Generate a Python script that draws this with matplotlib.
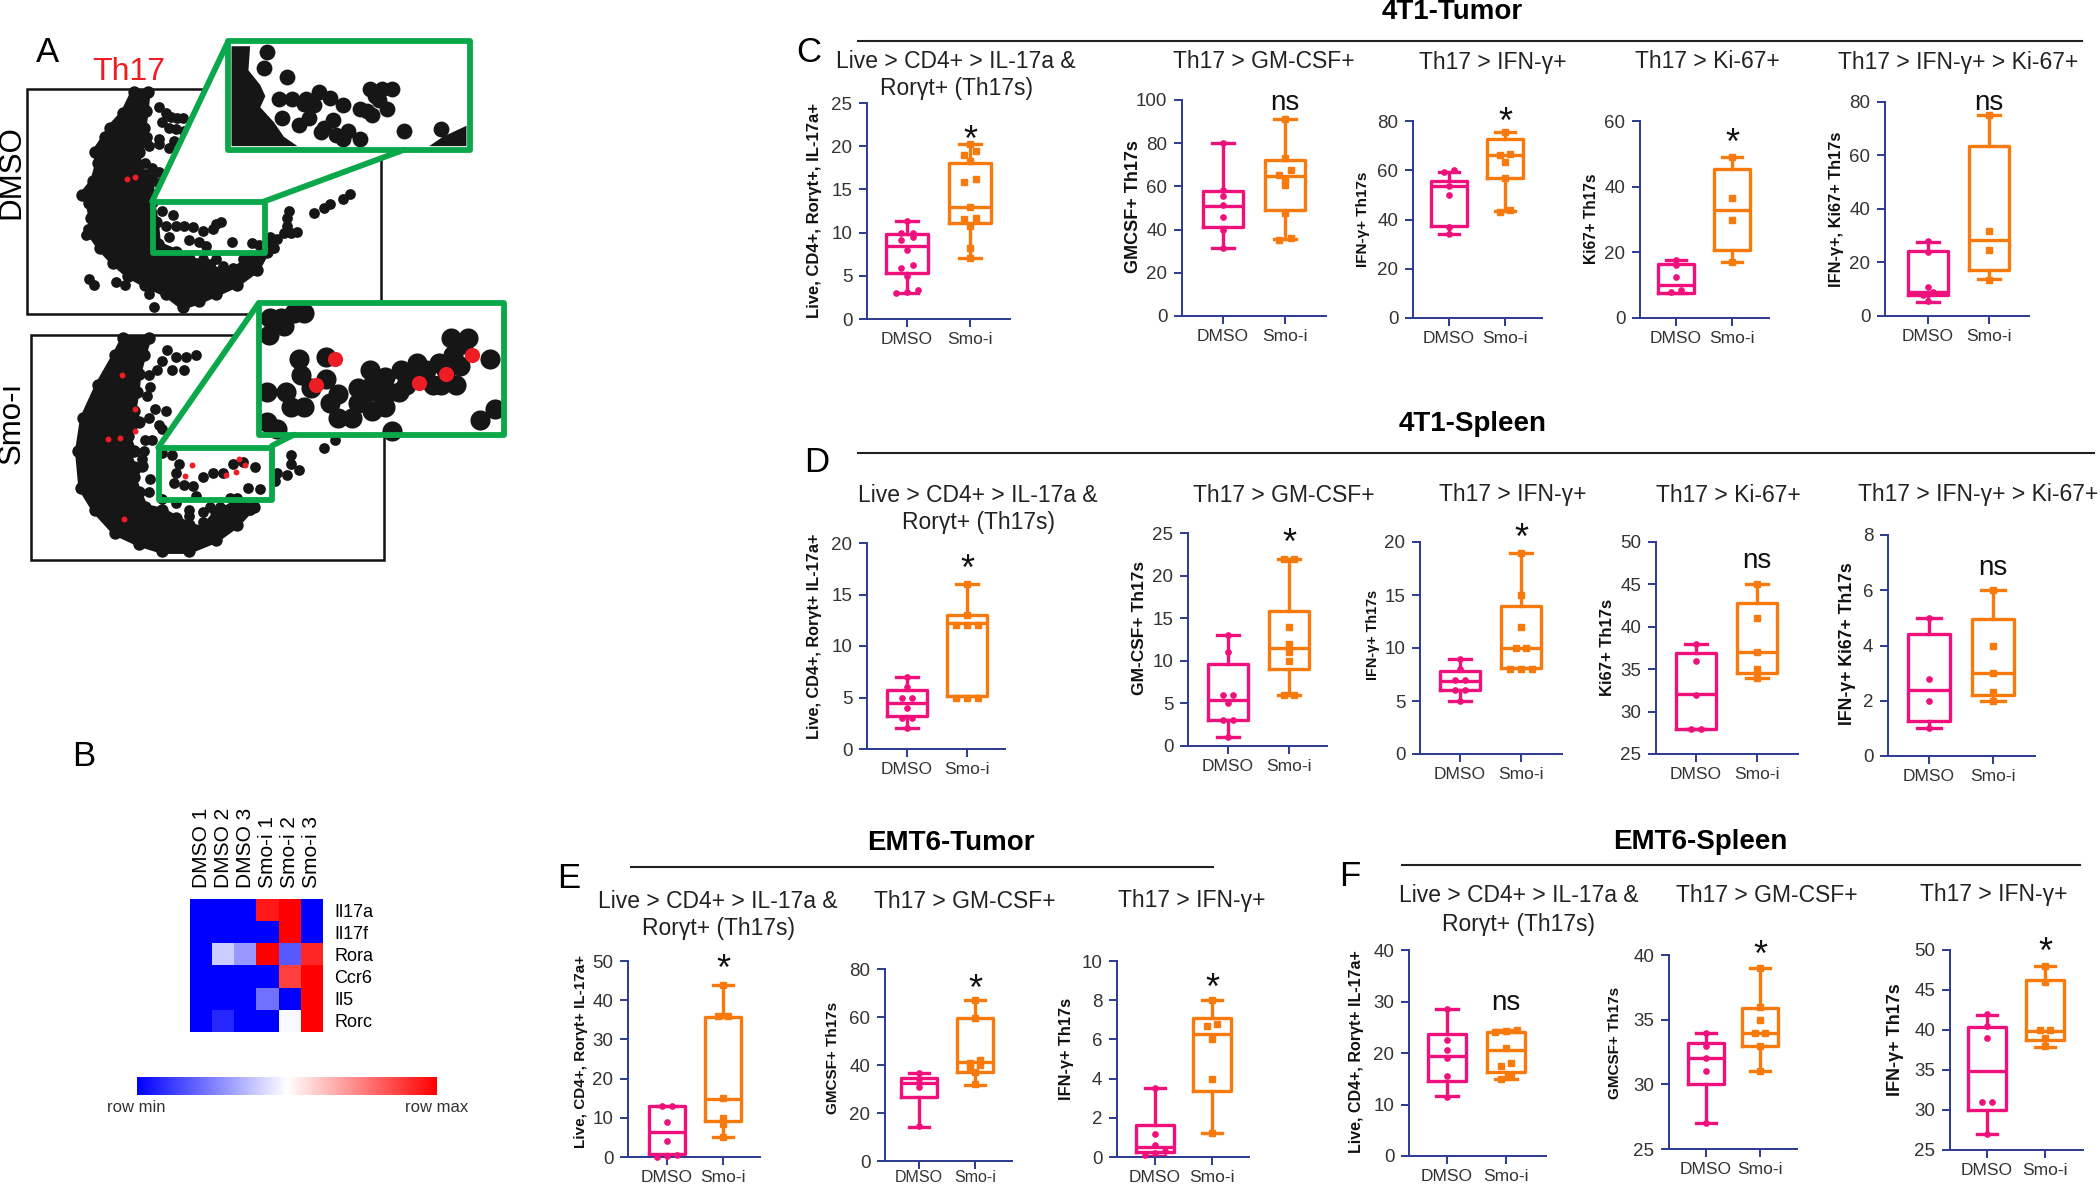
import numpy as np
import matplotlib
matplotlib.use("Agg")
import matplotlib.pyplot as plt
from matplotlib.colors import LinearSegmentedColormap
from matplotlib.lines import Line2D
from matplotlib.patches import Polygon, Rectangle

W, H = 2100, 1185

# box stats are (whisker low, q1, median, q3, whisker high)
c1_dmso_box = [3, 5.3, 8.5, 9.8, 11.3]
c1_dmso_pts = [3, 3.1, 3.4, 5, 5.9, 6.3, 8, 9.2, 9.5, 9.9, 10, 11.3]
c1_smo_box = [7.1, 11.1, 13, 18, 20.2]
c1_smo_pts = [7.1, 8.2, 10.8, 11.6, 11.7, 13, 15.8, 16.2, 18.3, 19, 19.5, 20.2]
c2_dmso_box = [31.5, 41, 51, 58, 80]
c2_dmso_pts = [31.5, 40, 46, 51.5, 55.5, 58.5, 80]
c2_smo_box = [35.5, 49, 65, 72, 91]
c2_smo_pts = [35, 36, 47.5, 60.5, 63, 65.5, 67.5, 73, 91]
c3_dmso_box = [34, 37.4, 53.5, 55.6, 59.4]
c3_dmso_pts = [34, 37, 50, 53.5, 59.4, 60]
c3_smo_box = [43.4, 56.7, 66.2, 72.7, 75.4]
c3_smo_pts = [43, 44, 57, 63.5, 66, 66.5, 75.5]
c4_dmso_box = [7.6, 7.6, 10.2, 16.3, 17.8]
c4_dmso_pts = [8, 8.5, 12.5, 16, 17.8]
c4_smo_box = [17, 20.6, 33, 45.5, 49.1]
c4_smo_pts = [17, 29.8, 36.7, 49]
c5_dmso_box = [5.4, 7.9, 9.1, 24.4, 27.5]
c5_dmso_pts = [5.5, 8, 9, 11, 24, 28]
c5_smo_box = [13.8, 17.3, 28.4, 63.5, 75]
c5_smo_pts = [13.5, 24.6, 31.7, 75]

d1_dmso_box = [2, 3.2, 4.5, 5.7, 7]
d1_dmso_pts = [2, 3, 3, 4, 5, 5, 6, 7]
d1_smo_box = [5.1, 5.1, 12.2, 13, 16]
d1_smo_pts = [5, 5, 5, 12, 12, 12, 13, 16]
d2_dmso_box = [1, 3.1, 5.4, 9.6, 13]
d2_dmso_pts = [1, 3, 3, 5, 6, 6, 11, 13]
d2_smo_box = [6, 9, 11.5, 15.9, 22]
d2_smo_pts = [6, 6, 10, 11, 12, 14, 22, 22]
d3_dmso_box = [5, 6.05, 6.9, 7.8, 9]
d3_dmso_pts = [5, 6, 6, 7, 7, 8, 9]
d3_smo_box = [8.1, 8.1, 10, 14, 19]
d3_smo_pts = [8, 8, 8, 10, 10, 12, 15, 19]
d4_dmso_box = [28, 28, 32.1, 36.9, 38]
d4_dmso_pts = [28, 28, 32, 36, 38]
d4_smo_box = [34, 34.6, 37, 42.8, 45]
d4_smo_pts = [34, 35, 37, 41, 45]
d5_dmso_box = [1, 1.27, 2.4, 4.4, 5]
d5_dmso_pts = [1, 2, 2.8, 5]
d5_smo_box = [2, 2.2, 3, 4.95, 6]
d5_smo_pts = [2, 2.3, 3, 4, 6]

e1_dmso_box = [0.2, 0.85, 6.4, 12.9, 12.9]
e1_dmso_pts = [0, 0.3, 0.5, 4, 9, 13, 13]
e1_smo_box = [5, 9.3, 14.8, 35.8, 44]
e1_smo_pts = [5, 8.5, 10, 15, 36, 36, 44]
e2_dmso_box = [14.2, 26.8, 32.6, 34.7, 36.8]
e2_dmso_pts = [14.5, 31, 34, 36.8]
e2_smo_box = [31.6, 37, 41.1, 59.5, 67.2]
e2_smo_pts = [32, 37, 39, 40, 41, 42, 59.5, 67]
e3_dmso_box = [0.05, 0.25, 0.5, 1.65, 3.5]
e3_dmso_pts = [0.1, 0.2, 0.3, 0.6, 1.15, 3.5]
e3_smo_box = [1.25, 3.37, 6.3, 7.07, 8]
e3_smo_pts = [1.25, 4, 6, 6.7, 6.8, 8]

f1_dmso_box = [11.6, 14.6, 19.5, 23.7, 28.6]
f1_dmso_pts = [11.5, 15.5, 19, 20.5, 22.5, 28.5]
f1_smo_box = [15, 16.3, 20.5, 24, 24.5]
f1_smo_pts = [15, 15.5, 17.5, 18, 21, 24, 24.3, 24.5]
f2_dmso_box = [27, 30, 32, 33.2, 34]
f2_dmso_pts = [27, 31, 32, 33, 34]
f2_smo_box = [31, 33, 34, 35.9, 39]
f2_smo_pts = [31, 33, 34, 34, 35, 36, 39]
f3_dmso_box = [27, 30, 34.9, 40.4, 41.9]
f3_dmso_pts = [27, 31, 31, 39, 40.5, 42]
f3_smo_box = [37.9, 38.7, 39.9, 46.2, 48]
f3_smo_pts = [38, 39, 40, 40, 46, 48]

# heatmap, -1 is row min and 1 is row max
genes = ["Il17a", "Il17f", "Rora", "Ccr6", "Il5", "Rorc"]
samples = ["DMSO 1", "DMSO 2", "DMSO 3", "Smo-i 1", "Smo-i 2", "Smo-i 3"]
heat_values = [
    [-1, -1, -1, 0.9, 1, -1],
    [-1, -1, -1, -1, 1, -1],
    [-1, -0.2, -0.4, 1, -0.65, 0.85],
    [-1, -1, -1, -1, 0.75, 1],
    [-1, -1, -1, -0.55, -1, 1],
    [-1, -0.85, -1, -1, -0.03, 1],
]

# flow plots
dmso_body = [(395,248),(437,248),(432,300),(425,345),(430,380),(412,410),(408,450),(420,490),(440,520),
             (450,545),(462,600),(468,660),(520,680),(560,700),(620,725),(680,735),(740,700),(790,680),
             (760,730),(700,770),(640,795),(590,815),(540,830),(490,795),(430,770),(380,745),(335,710),
             (295,670),(265,630),(270,590),(262,550),(242,527),(275,490),(290,440),(280,410),(310,370),
             (325,345),(365,305)]
dmso_dots = [(470,288),(490,305),(505,315),(525,320),(480,330),(500,345),(520,350),(545,355),(540,320),
             (430,300),(435,370),(470,375),(440,395),(470,390),(515,380),(500,400),(430,440),(450,455),
             (470,465),(450,480),(430,470),(470,495),(500,515),(525,530),(480,570),(512,582),(490,610),
             (520,610),(545,610),(570,615),(640,605),(655,600),(630,620),(600,625),(500,640),(560,650),
             (590,655),(610,665),(685,655),(745,658),(765,662),(800,660),(820,645),(850,610),(855,570),
             (850,590),(840,630),(880,628),(930,577),(960,562),(975,552),(1015,537),(1035,525),(262,755),
             (278,770),(342,763),(370,770),(440,795),(457,830),(260,620),(255,635),(580,710),(620,715),
             (660,720),(690,725),(500,690),(540,700),(600,700),(640,700),(720,700),(770,690),(810,670),
             (800,640),(440,500),(860,630)]
dmso_red = [(375,483),(400,478)]
smo_body = [(365,915),(440,915),(425,960),(410,1010),(405,1060),(395,1110),(410,1140),(380,1180),(395,1220),
            (380,1250),(420,1260),(395,1290),(410,1330),(430,1370),(480,1380),(520,1400),(560,1420),
            (600,1430),(640,1385),(700,1360),(750,1370),(700,1420),(640,1460),(560,1490),(480,1490),
            (410,1470),(340,1440),(280,1380),(240,1320),(230,1220),(245,1130),(290,1040),(340,960)]
smo_dots = [(495,945),(520,965),(550,965),(580,960),(510,1000),(545,1000),(480,975),(465,1000),(440,1015),
            (445,1045),(435,1070),(460,1105),(490,1110),(440,1130),(470,1150),(450,1190),(480,1160),
            (480,1225),(510,1230),(530,1255),(520,1280),(515,1305),(545,1310),(570,1315),(580,1340),
            (600,1290),(630,1280),(660,1280),(690,1255),(720,1250),(755,1262),(735,1320),(770,1322),
            (960,1210),(990,1190),(860,1230),(860,1255),(885,1270),(850,1285),(820,1280),(815,1300),
            (560,1395),(600,1410),(620,1370),(650,1370),(680,1345),(700,1345),(740,1380),(600,1385),
            (560,1380),(520,1360),(480,1350),(440,1330),(445,1295),(420,1240),(425,1220),(430,1190)]
smo_red = [(400,1105),(355,1185),(320,1188),(360,1015),(400,1165),(367,1403),(568,1258),(547,1287),
           (668,1283),(697,1275),(725,1258),(708,1240)]

inset1_body = [(685,125),(740,125),(735,190),(770,230),(785,260),(770,290),(810,330),(840,370),(880,395),(685,395)]
inset1_corner = [(1270,395),(1310,370),(1380,340),(1380,395)]
inset1_dots = [(790,140),(780,185),(848,208),(825,268),(865,268),(905,268),(945,250),(975,265),(930,285),
               (1015,285),(835,318),(885,338),(915,320),(985,325),(950,358),(995,365),(1030,355),(1065,375),
               (1065,295),(1095,240),(1130,240),(1160,240),(1120,270),(1145,295),(1100,310),(1195,355),(1305,350),
               (900,280),(960,345),(1015,375),(1085,300),(1110,260)]
inset2_dots = [(800,860),(830,860),(870,845),(900,845),(795,905),(840,880),(885,970),(965,965),(890,1015),
               (845,1060),(860,1100),(900,1100),(920,1050),(965,1025),(1000,1065),(975,1090),(1000,1130),
               (1040,1130),(790,1060),(790,1140),(820,1160),(1095,1000),(1090,1060),(1140,1020),(1130,1070),
               (1185,1000),(1235,980),(1180,1060),(1280,1040),(1260,1000),(1320,1000),(1305,1040),(1350,1040),
               (1340,960),(1335,915),(1385,915),(1450,970),(1420,1135),(1465,1105),(1160,1165),(1100,1110),(1060,1090),
               (1060,1050),(1100,1040),(1150,1060),(1200,1040),(1220,1010),(1140,1100),(1240,1010),(1300,980),
               (1360,990),(1370,930)]
inset2_red = [(990,970),(935,1040),(1240,1035),(1320,1010),(1395,960)]

PINK = "#f0107c"
ORANGE = "#f97a0c"
NAVY = "#2b3990"
GREEN = "#0aa84a"

plt.rcParams["font.family"] = ["Liberation Sans", "DejaVu Sans"]

fig = plt.figure(figsize=(W / 100, H / 100), dpi=100)


def ptext(x, y, s, **kw):
    kw.setdefault("ha", "center")
    kw.setdefault("va", "center")
    fig.text(x / W, 1 - y / H, s, **kw)


def pline(x0, x1, y):
    fig.add_artist(Line2D([x0 / W, x1 / W], [1 - y / H, 1 - y / H], color="#222222", lw=1.5))


def dodge(values, span):
    # points with nearly the same value sit side by side
    vals = sorted(values)
    xs = []
    i = 0
    while i < len(vals):
        j = i
        while j + 1 < len(vals) and vals[j + 1] - vals[i] < span * 0.025:
            j += 1
        n = j - i + 1
        xs += list((np.arange(n) - (n - 1) / 2) * 0.18)
        i = j + 1
    return np.array(xs), np.array(vals)


def box_panel(box, sig):
    left, right, t1, t2, y_bot, y_top, ticks, ylabel, lab_x, lab_y, lab_fs = box["layout"]
    ax = fig.add_axes([left / W, 1 - y_bot / H, (right - left) / W, (y_bot - y_top) / H])
    unit = t2 - t1
    ax.set_xlim(1 - (t1 - left) / unit, 2 + (right - t2) / unit)
    ax.set_ylim(ticks[0], ticks[-1])
    ax.patch.set_alpha(0)
    for name, pos, col, mark in [("dmso", 1, PINK, "o"), ("smo", 2, ORANGE, "s")]:
        lo, q1, med, q3, hi = box[name + "_box"]
        stats = [{"whislo": lo, "q1": q1, "med": med, "q3": q3, "whishi": hi, "fliers": []}]
        props = {"color": col, "linewidth": 2.4}
        ax.bxp(stats, positions=[pos], widths=0.66, capwidths=0.36, showfliers=False, manage_ticks=False,
               boxprops=props, whiskerprops=props, capprops=props, medianprops=props)
        dx, ys = dodge(box[name + "_pts"], ticks[-1] - ticks[0])
        ax.plot(pos + dx, ys, mark, color=col, ms=3.8, clip_on=False, zorder=4)
    for s in ["top", "right"]:
        ax.spines[s].set_visible(False)
    for s in ["left", "bottom"]:
        ax.spines[s].set_color(NAVY)
        ax.spines[s].set_linewidth(1.4)
    # the bottom row runs into the edge of the picture
    low_row = y_bot >= 1160
    ax.set_xticks([1, 2])
    ax.set_xticklabels(["DMSO", "Smo-i"], fontsize=11.5 if low_row else 12.5, color="#333333")
    ax.set_yticks(ticks)
    ax.set_yticklabels([str(t) for t in ticks], fontsize=13.5, color="#333333")
    ax.tick_params(axis="both", color=NAVY, width=1.4, length=5.5, pad=5)
    ax.tick_params(axis="x", pad=1 if low_row else 4)
    ptext(lab_x, lab_y, ylabel, rotation=90, fontweight="bold", fontsize=lab_fs, color="#111111")
    label, y = sig
    # asterisks sit high in the font so they get pulled down a bit
    size, drop = (26, -5) if label == "*" else (20, -3)
    ax.annotate(label, (2, y), xytext=(0, drop), textcoords="offset points", ha="center", va="center",
                fontsize=size, color="#111111", annotation_clip=False)


LIVE = "Live, CD4+, Rorγt+ IL-17a+"
IFN = "IFN-γ+ Th17s"
GMCSF = "GMCSF+ Th17s"
panels = [
    ({"layout": (867, 1010, 907, 970, 319, 103, [0, 5, 10, 15, 20, 25], "Live, CD4+, Rorγt+, IL-17a+", 815, 211, 12),
      "dmso_box": c1_dmso_box, "dmso_pts": c1_dmso_pts, "smo_box": c1_smo_box, "smo_pts": c1_smo_pts}, ("*", 21.4)),
    ({"layout": (1182, 1326, 1223, 1285, 316, 100, [0, 20, 40, 60, 80, 100], GMCSF, 1133, 207, 13),
      "dmso_box": c2_dmso_box, "dmso_pts": c2_dmso_pts, "smo_box": c2_smo_box, "smo_pts": c2_smo_pts}, ("ns", 100.5)),
    ({"layout": (1413, 1542, 1449, 1505, 318, 121, [0, 20, 40, 60, 80], IFN, 1363, 219, 11),
      "dmso_box": c3_dmso_box, "dmso_pts": c3_dmso_pts, "smo_box": c3_smo_box, "smo_pts": c3_smo_pts}, ("*", 82)),
    ({"layout": (1640, 1769, 1676, 1732, 318, 121, [0, 20, 40, 60], "Ki67+ Th17s", 1592, 219, 11.2),
      "dmso_box": c4_dmso_box, "dmso_pts": c4_dmso_pts, "smo_box": c4_smo_box, "smo_pts": c4_smo_pts}, ("*", 55)),
    ({"layout": (1885, 2029, 1928, 1989, 316, 102, [0, 20, 40, 60, 80], "IFN-γ+, Ki67+ Th17s", 1836, 209, 11.8),
      "dmso_box": c5_dmso_box, "dmso_pts": c5_dmso_pts, "smo_box": c5_smo_box, "smo_pts": c5_smo_pts}, ("ns", 81)),
    ({"layout": (867, 1005, 907, 967, 749, 543, [0, 5, 10, 15, 20], LIVE, 815, 636, 11.7),
      "dmso_box": d1_dmso_box, "dmso_pts": d1_dmso_pts, "smo_box": d1_smo_box, "smo_pts": d1_smo_pts}, ("*", 18)),
    ({"layout": (1188, 1327, 1228, 1289, 746, 533, [0, 5, 10, 15, 20, 25], "GM-CSF+ Th17s", 1139, 628, 12.5),
      "dmso_box": d2_dmso_box, "dmso_pts": d2_dmso_pts, "smo_box": d2_smo_box, "smo_pts": d2_smo_pts}, ("*", 24.5)),
    ({"layout": (1420, 1562, 1460, 1521, 754, 542, [0, 5, 10, 15, 20], IFN, 1373, 635, 10.4),
      "dmso_box": d3_dmso_box, "dmso_pts": d3_dmso_pts, "smo_box": d3_smo_box, "smo_pts": d3_smo_pts}, ("*", 20.9)),
    ({"layout": (1656, 1798, 1696, 1757, 754, 542, [25, 30, 35, 40, 45, 50], "Ki67+ Th17s", 1608, 647, 12),
      "dmso_box": d4_dmso_box, "dmso_pts": d4_dmso_pts, "smo_box": d4_smo_box, "smo_pts": d4_smo_pts}, ("ns", 48.2)),
    ({"layout": (1888, 2035, 1929, 1993, 756, 535, [0, 2, 4, 6, 8], "IFN-γ+ Ki67+ Th17s", 1848, 644, 12.7),
      "dmso_box": d5_dmso_box, "dmso_pts": d5_dmso_pts, "smo_box": d5_smo_box, "smo_pts": d5_smo_pts}, ("ns", 6.94)),
    ({"layout": (628, 760, 667, 723, 1157, 961, [0, 10, 20, 30, 40, 50], LIVE, 581, 1051, 11),
      "dmso_box": e1_dmso_box, "dmso_pts": e1_dmso_pts, "smo_box": e1_smo_box, "smo_pts": e1_smo_pts}, ("*", 49.3)),
    ({"layout": (885, 1012, 919, 975, 1161, 969, [0, 20, 40, 60, 80], GMCSF, 833, 1058, 11),
      "dmso_box": e2_dmso_box, "dmso_pts": e2_dmso_pts, "smo_box": e2_smo_box, "smo_pts": e2_smo_pts}, ("*", 74)),
    ({"layout": (1117, 1249, 1155, 1212, 1157, 961, [0, 2, 4, 6, 8, 10], IFN, 1067, 1049, 11.8),
      "dmso_box": e3_dmso_box, "dmso_pts": e3_dmso_pts, "smo_box": e3_smo_box, "smo_pts": e3_smo_pts}, ("*", 8.9)),
    ({"layout": (1409, 1546, 1447, 1506, 1156, 950, [0, 10, 20, 30, 40], LIVE, 1357, 1052, 11.5),
      "dmso_box": f1_dmso_box, "dmso_pts": f1_dmso_pts, "smo_box": f1_smo_box, "smo_pts": f1_smo_pts}, ("ns", 30.6)),
    ({"layout": (1669, 1797, 1706, 1760, 1149, 955, [25, 30, 35, 40], GMCSF, 1615, 1043, 11),
      "dmso_box": f2_dmso_box, "dmso_pts": f2_dmso_pts, "smo_box": f2_smo_box, "smo_pts": f2_smo_pts}, ("*", 40.4)),
    ({"layout": (1950, 2083, 1987, 2045, 1150, 950, [25, 30, 35, 40, 45, 50], IFN, 1896, 1040, 13),
      "dmso_box": f3_dmso_box, "dmso_pts": f3_dmso_pts, "smo_box": f3_smo_box, "smo_pts": f3_smo_pts}, ("*", 50.4)),
]
for box, sig in panels:
    box_panel(box, sig)

# section rules and headings
for x0, x1, y in [(858, 2082, 41), (858, 2094, 453), (631, 1213, 867), (1402, 2080, 865)]:
    pline(x0, x1, y)
for x, y, s in [(1452, 12, "4T1-Tumor"), (1473, 424, "4T1-Spleen"), (951, 843, "EMT6-Tumor"), (1700, 842, "EMT6-Spleen")]:
    ptext(x, y, s, fontweight="bold", fontsize=20)

for x, y, s in [(47, 52, "A"), (84, 757, "B"), (809, 53, "C"), (817, 462, "D"), (569, 878, "E"), (1350, 877, "F")]:
    ptext(x, y, s, fontsize=25)

LIVE_T1 = "Live > CD4+ > IL-17a &"
LIVE_T2 = "Rorγt+ (Th17s)"
GM_T = "Th17 > GM-CSF+"
IFN_T = "Th17 > IFN-γ+"
KI_T = "Th17 > Ki-67+"
BOTH_T = "Th17 > IFN-γ+ > Ki-67+"
subtitles = [
    (956, 62, LIVE_T1), (956, 88, LIVE_T2), (1264, 62, GM_T), (1493, 62, IFN_T), (1707, 62, KI_T), (1958, 62, BOTH_T),
    (978, 495, LIVE_T1), (978, 523, LIVE_T2), (1284, 495, GM_T), (1513, 495, IFN_T), (1728, 495, KI_T), (1978, 495, BOTH_T),
    (718, 901, LIVE_T1), (718, 929, LIVE_T2), (965, 901, GM_T), (1192, 901, IFN_T),
    (1519, 895, LIVE_T1), (1519, 924, LIVE_T2), (1767, 895, GM_T), (1994, 895, IFN_T),
]
for x, y, s in subtitles:
    ptext(x, y, s, fontsize=16.5, color="#222222")

# heatmap and its colour bar
bwr = LinearSegmentedColormap.from_list("rowscale", ["#0000ff", "#ffffff", "#ff0000"])
hm = fig.add_axes([190 / W, 1 - 1032 / H, 133 / W, 133 / H])
hm.imshow(heat_values, cmap=bwr, vmin=-1, vmax=1, aspect="auto", interpolation="nearest")
hm.set_xticks(np.arange(6))
hm.set_xticklabels(samples, rotation=90, fontsize=15)
hm.xaxis.tick_top()
hm.yaxis.tick_right()
hm.set_yticks(np.arange(6))
hm.set_yticklabels(genes, fontsize=13)
hm.tick_params(length=0, pad=8)
for s in hm.spines.values():
    s.set_visible(False)
cb = fig.add_axes([137 / W, 1 - 1095 / H, 300 / W, 18 / H])
cb.imshow(np.linspace(-1, 1, 256).reshape(1, -1), cmap=bwr, aspect="auto")
cb.axis("off")
ptext(136, 1107, "row min", fontsize=12, color="#333333")
ptext(437, 1107, "row max", fontsize=12, color="#333333")

# flow plots, this axes is just pixels of the crop so the arrays above stay readable
fa = fig.add_axes([0, 1 - 580 / H, 530 / W, 580 / H], zorder=5)
fa.set_xlim(0, 1568)
fa.set_ylim(1568, 0)
fa.axis("off")


def blob(points, size=60):
    # thick edge so the outline dots merge into one solid shape
    fa.add_patch(Polygon(points, closed=True, fc="#161616", ec="#161616", lw=4, joinstyle="round", zorder=2))
    xs, ys = zip(*points)
    fa.scatter(xs, ys, s=size, color="#161616", lw=0, zorder=2)


def dots(points, size=60, color="#161616", z=3):
    xs, ys = zip(*points)
    fa.scatter(xs, ys, s=size, color=color, lw=0, zorder=z)


def green(x0, y0, x1, y1):
    fa.add_patch(Rectangle((x0, y0), x1 - x0, y1 - y0, fill=False, ec=GREEN, lw=4.2, zorder=6, joinstyle="round"))


fa.add_patch(Rectangle((80, 240), 1047, 610, fill=False, ec="#111111", lw=1.8))
fa.add_patch(Rectangle((92, 905), 1045, 610, fill=False, ec="#111111", lw=1.8))
blob(dmso_body, 80)
dots(dmso_dots)
dots(dmso_red, 18, "#ee1c25")
blob(smo_body, 80)
dots(smo_dots)
dots(smo_red, 18, "#ee1c25")

# white backing for the enlarged parts
fa.add_patch(Polygon([(675, 112), (450, 545), (780, 545), (1195, 405), (1390, 405), (1390, 112)], color="white", lw=0, zorder=3.5))
fa.add_patch(Polygon([(765, 820), (468, 1210), (805, 1205), (870, 1175), (1490, 1175), (1490, 820)], color="white", lw=0, zorder=3.5))
for (x0, y0), (x1, y1) in [((675, 112), (450, 545)), ((1195, 405), (780, 545)), ((765, 820), (468, 1210)), ((870, 1175), (805, 1205))]:
    fa.plot([x0, x1], [y0, y1], color=GREEN, lw=4.2, zorder=6, solid_capstyle="round")
green(452, 545, 785, 685)
green(470, 1210, 805, 1352)

for pts in [inset1_body, inset1_corner]:
    fa.add_patch(Polygon(pts, closed=True, color="#161616", lw=0, zorder=4))
dots(inset1_dots, 130, z=4)
dots(inset2_dots, 210, z=4)
dots(inset2_red, 120, "#ee1c25", z=4.5)
green(675, 112, 1390, 405)
green(765, 820, 1490, 1175)

fa.text(380, 195, "Th17", color="#ee1c25", fontsize=23, ha="center", va="center")
fa.text(35, 465, "DMSO", fontsize=22.5, rotation=90, ha="center", va="center")
fa.text(35, 1145, "Smo-i", fontsize=22.5, rotation=90, ha="center", va="center")

fig.savefig("out.png", dpi=100)
